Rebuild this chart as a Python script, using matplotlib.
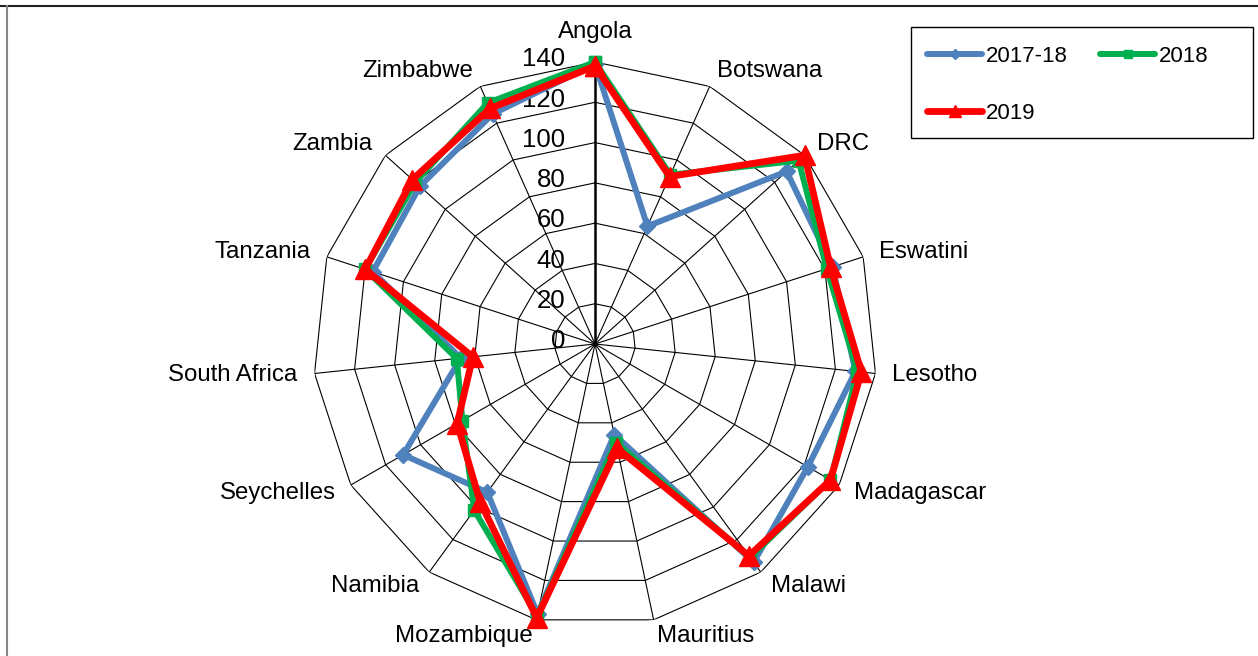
import numpy as np
import matplotlib
matplotlib.use("Agg")
import matplotlib.pyplot as plt
from matplotlib.lines import Line2D
from matplotlib.patches import Rectangle

countries = ["Angola", "Botswana", "DRC", "Eswatini", "Lesotho", "Madagascar",
             "Malawi", "Mauritius", "Mozambique", "Namibia", "Seychelles",
             "South Africa", "Tanzania", "Zambia", "Zimbabwe"]
series_names = ["2017-18", "2018", "2019"]
vals_2017_18 = [139, 64, 128, 124, 130, 122, 134, 46, 137, 91, 110, 67, 116, 117, 125]
vals_2018 = [140, 92, 136, 121, 131, 135, 131, 50, 138, 102, 76, 69, 120, 120, 131]
vals_2019 = [138, 91, 140, 123, 133, 135, 130, 53, 139, 97, 79, 61, 120, 122, 128]
rings = [0, 20, 40, 60, 80, 100, 120, 140]

colors = ["#4F81BD", "#00B050", "#FF0000"]
markers = ["D", "s", "^"]
msizes = [8, 9, 15]
lws = [4.3, 4.3, 4.9]

plt.rcParams["font.family"] = ["Liberation Sans", "DejaVu Sans"]
FS_CAT = 17.3
FS_TICK = 18.5
FS_LEG = 16

W, H = 1258, 656
fig = plt.figure(figsize=(W / 100, H / 100), dpi=100)

cx, cy, R = 595, 344, 282
ax = fig.add_axes([(cx - R) / W, (H - cy - R) / H, 2 * R / W, 2 * R / H],
                  projection="polar")
ax.set_theta_zero_location("N")
ax.set_theta_direction(-1)
rmax = rings[-1]
ax.set_ylim(0, rmax)
ax.set_xticks([])
ax.set_yticks([])
ax.grid(False)
ax.spines["polar"].set_visible(False)
ax.patch.set_alpha(0)

n = len(countries)
theta = np.arange(n) * 2 * np.pi / n
theta_c = np.append(theta, theta[0])

# polygon grid
for r in rings[1:]:
    ax.plot(theta_c, [r] * (n + 1), color="black", lw=0.8, zorder=1)
for i, t in enumerate(theta):
    ax.plot([t, t], [0, rmax], color="black", lw=1.8 if i == 0 else 0.8, zorder=1)

# value labels along the vertical axis
for r in rings:
    ax.annotate(str(r), xy=(0, r), xytext=(-21.5, 2), textcoords="offset points",
                ha="right", va="center", fontsize=FS_TICK)

# category labels
for t, name in zip(theta, countries):
    s, c = np.sin(t), np.cos(t)
    d = 17 * 0.72
    if abs(s) < 0.01:
        ha = "center"
        off = (0, 30 * 0.72 if c > 0 else -30 * 0.72)
    else:
        ha = "left" if s > 0 else "right"
        off = (d * s, d * c)
    ax.annotate(name, xy=(t, rmax), xytext=off, textcoords="offset points",
                ha=ha, va="center", fontsize=FS_CAT)

# data series
handles = []
for vals, name, col, mk, ms, lw in zip([vals_2017_18, vals_2018, vals_2019],
                                       series_names, colors, markers, msizes, lws):
    v = list(vals) + [vals[0]]
    ax.plot(theta_c, v, color=col, lw=lw, marker=mk, markersize=ms,
            markerfacecolor=col, markeredgecolor=col, zorder=3,
            solid_joinstyle="miter", clip_on=False)
    handles.append(Line2D([0], [0], color=col, lw=lw, marker=mk,
                          markersize=ms * 0.6, markerfacecolor=col,
                          markeredgecolor=col, solid_capstyle="round"))

# legend box
fig.add_artist(Rectangle((911 / W, 1 - 138 / H), 342 / W, 111 / H,
                         transform=fig.transFigure, fill=False,
                         edgecolor="black", lw=1.0))
# legend laid out row by row: 2017-18, 2018 / 2019
order = [0, 2, 1]
leg = fig.legend([handles[i] for i in order], [series_names[i] for i in order],
                 ncol=2, loc="upper left",
                 bbox_to_anchor=(927 / W, 1 - 46 / H),
                 borderaxespad=0, borderpad=0, fontsize=FS_LEG,
                 handlelength=2.48, handletextpad=0.18, columnspacing=1.45,
                 labelspacing=1.62, frameon=False)

# outer frame lines
fig.add_artist(Line2D([0, 1], [1 - 6 / H, 1 - 6 / H], color="#222222", lw=1.5,
                      transform=fig.transFigure))
fig.add_artist(Line2D([7 / W, 7 / W], [0, 1 - 6 / H], color="#888888", lw=1.5,
                      transform=fig.transFigure))

fig.savefig("out.png", dpi=100)
